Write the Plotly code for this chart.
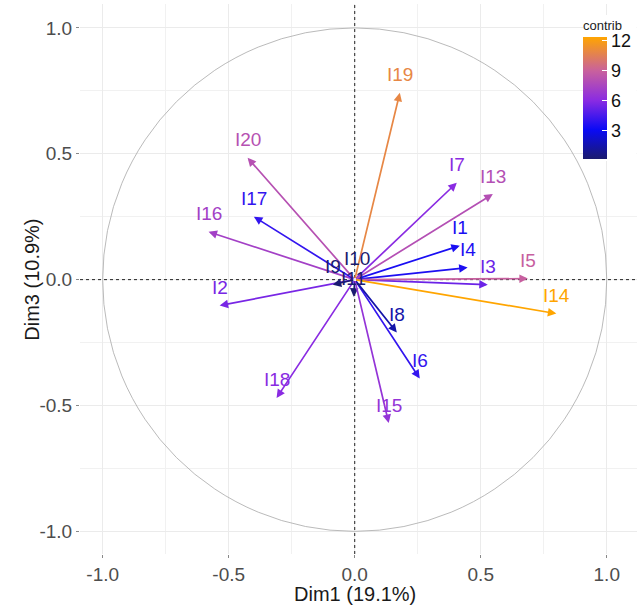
import plotly.graph_objects as go
from plotly.colors import sample_colorscale

# Variable coordinates on Dim1 / Dim3 and their contributions
variables = ["I1", "I2", "I3", "I4", "I5", "I6", "I7", "I8", "I9", "I10",
             "I11", "I13", "I14", "I15", "I16", "I17", "I18", "I19", "I20"]
dim1 = [0.417, -0.536, 0.528, 0.448, 0.687, 0.258, 0.405, 0.167, -0.087, 0.010,
        -0.004, 0.548, 0.800, 0.135, -0.580, -0.400, -0.310, 0.179, -0.425]
dim3 = [0.135, -0.103, -0.020, 0.048, 0.004, -0.393, 0.385, -0.210, -0.020, 0.012,
        -0.068, 0.340, -0.135, -0.570, 0.190, 0.250, -0.470, 0.742, 0.484]
contrib = [3.4, 5.6, 5.3, 3.5, 8.9, 4.0, 6.0, 1.4, 0.2, 0.1,
           0.15, 8.0, 12.4, 6.5, 7.2, 4.0, 6.0, 10.9, 8.1]

axis_ticks = [-1.0, -0.5, 0.0, 0.5, 1.0]
axis_tick_text = ["-1.0", "-0.5", "0.0", "0.5", "1.0"]
contrib_ticks = [3, 6, 9, 12]

FONT = "Liberation Sans"

colorscale = [
    [0.0, "#1B1B6E"],
    [0.24, "#0A0AF5"],
    [0.48, "#8A2BE2"],
    [0.72, "#C8609E"],
    [1.0, "#FFA500"],
]

cmin, cmax = min(contrib), max(contrib)
norm = [(c - cmin) / (cmax - cmin) for c in contrib]
colors = sample_colorscale(colorscale, norm, colortype="rgb")

fig = go.Figure()

# invisible markers carrying the colour scale for the legend bar
fig.add_trace(go.Scatter(
    x=dim1, y=dim3, mode="markers",
    marker=dict(size=1, opacity=0, color=contrib, colorscale=colorscale,
                cmin=cmin, cmax=cmax, showscale=True,
                colorbar=dict(
                    title=dict(text="contrib", side="top",
                               font=dict(size=13, color="#222", family=FONT)),
                    tickvals=contrib_ticks, ticks="inside", tickcolor="white",
                    ticklen=5, tickwidth=1,
                    tickfont=dict(size=18, color="#111", family=FONT),
                    thickness=24, thicknessmode="pixels",
                    lenmode="pixels", len=146,
                    x=0.903, xanchor="left", y=0.98, yanchor="top",
                    outlinewidth=0, bgcolor="white", xpad=0, ypad=2,
                )),
    hoverinfo="skip", showlegend=False,
))

annotations = []
for name, x, y, col in zip(variables, dim1, dim3, colors):
    annotations.append(dict(
        x=x, y=y, ax=0, ay=0, xref="x", yref="y", axref="x", ayref="y",
        text="", showarrow=True, arrowhead=2, arrowsize=1.0, arrowwidth=1.7,
        arrowcolor=col, standoff=0,
    ))
for name, x, y, col in zip(variables, dim1, dim3, colors):
    annotations.append(dict(
        x=x, y=y, xref="x", yref="y", text=name, showarrow=False,
        yshift=18, font=dict(size=19, color=col, family=FONT),
    ))

# axis titles
annotations.append(dict(
    x=0, y=-0.0735, xref="x", yref="paper", text="Dim1 (19.1%)", showarrow=False,
    xanchor="center", yanchor="middle", font=dict(size=20, color="#1A1A1A", family=FONT),
))
annotations.append(dict(
    x=-0.086, y=0, xref="paper", yref="y", text="Dim3 (10.9%)", showarrow=False,
    textangle=-90, xanchor="center", yanchor="middle",
    font=dict(size=20, color="#1A1A1A", family=FONT),
))

shapes = [
    dict(type="circle", xref="x", yref="y", x0=-1, y0=-1, x1=1, y1=1,
         line=dict(color="#A8A8A8", width=0.8), layer="above"),
    dict(type="line", xref="paper", yref="y", x0=0, x1=1, y0=0, y1=0,
         line=dict(color="#222", width=1, dash="3px,3px"), layer="above"),
    dict(type="line", xref="x", yref="paper", x0=0, x1=0, y0=0, y1=1,
         line=dict(color="#222", width=1, dash="3px,3px"), layer="above"),
]

axis_common = dict(
    tickvals=axis_ticks, ticktext=axis_tick_text,
    tickfont=dict(size=19, color="#4D4D4D", family=FONT),
    ticks="outside", ticklen=3, tickcolor="#888", tickwidth=0.6,
    showgrid=True, gridcolor="#EBEBEB", gridwidth=1,
    minor=dict(tickvals=[-0.75, -0.25, 0.25, 0.75], showgrid=True,
               gridcolor="#F1F1F1", gridwidth=0.7, ticks=""),
    zeroline=False, showline=False, automargin=False,
)

fig.update_layout(
    width=637, height=606,
    margin=dict(l=80, r=0, t=4, b=52, autoexpand=False),
    plot_bgcolor="white", paper_bgcolor="white",
    xaxis=dict(range=[-1.09, 1.12], **axis_common),
    yaxis=dict(range=[-1.09, 1.095], **axis_common),
    annotations=annotations,
    shapes=shapes,
    showlegend=False,
)

fig.write_html("out.html")
